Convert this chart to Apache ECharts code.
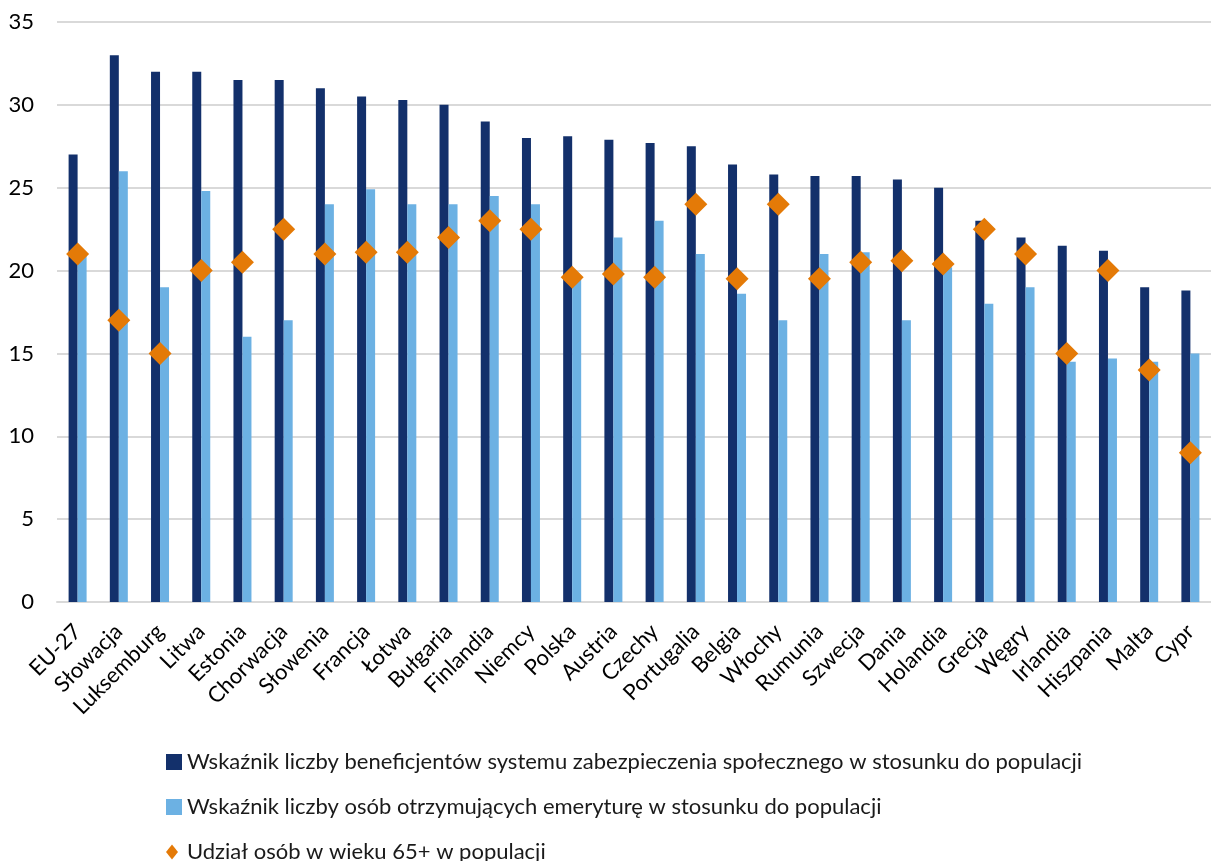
<!DOCTYPE html>
<html lang="pl">
<head>
<meta charset="utf-8">
<title>Wskaźniki beneficjentów i emerytów</title>
<script src="https://cdn.jsdelivr.net/npm/echarts@6/dist/echarts.min.js"></script>
<style>
  html, body { margin: 0; padding: 0; background: #fff; }
  #chart { width: 1211px; height: 861px; }
</style>
</head>
<body>
<div id="chart"></div>
<script>
// Kraje (oraz średnia UE-27)
const countries = [
  'EU-27', 'Słowacja', 'Luksemburg', 'Litwa', 'Estonia', 'Chorwacja', 'Słowenia',
  'Francja', 'Łotwa', 'Bułgaria', 'Finlandia', 'Niemcy', 'Polska', 'Austria',
  'Czechy', 'Portugalia', 'Belgia', 'Włochy', 'Rumunia', 'Szwecja', 'Dania',
  'Holandia', 'Grecja', 'Węgry', 'Irlandia', 'Hiszpania', 'Malta', 'Cypr'
];

// Wskaźnik liczby beneficjentów systemu zabezpieczenia społecznego (%)
const beneficiaries = [
  27, 33, 32, 32, 31.5, 31.5, 31,
  30.5, 30.3, 30, 29, 28, 28.1, 27.9,
  27.7, 27.5, 26.4, 25.8, 25.7, 25.7, 25.5,
  25, 23, 22, 21.5, 21.2, 19, 18.8
];

// Wskaźnik liczby osób otrzymujących emeryturę (%)
const pensioners = [
  20.9, 26, 19, 24.8, 16, 17, 24,
  24.9, 24, 24, 24.5, 24, 19.5, 22,
  23, 21, 18.6, 17, 21, 21.1, 17,
  20.2, 18, 19, 14.5, 14.7, 14.5, 15
];

// Udział osób w wieku 65+ w populacji (%)
const share65 = [
  21, 17, 15, 20, 20.5, 22.5, 21,
  21.1, 21.1, 22, 23, 22.5, 19.6, 19.8,
  19.6, 24, 19.5, 24, 19.5, 20.5, 20.6,
  20.4, 22.5, 21, 15, 20, 14, 9
];

const yTicks = { min: 0, max: 35, step: 5 };

const seriesNames = [
  'Wskaźnik liczby beneficjentów systemu zabezpieczenia społecznego w stosunku do populacji',
  'Wskaźnik liczby osób otrzymujących emeryturę w stosunku do populacji',
  'Udział osób w wieku 65+ w populacji'
];

const COLORS = ['#13306B', '#6CB1E3', '#E47A07'];
const FONT = 'Lato, "Noto Sans", sans-serif';
const FONT_SIZE = 22;

// One legend block per row so every entry sits on its own line
function legendRow(name, top, icon, w, h, textPad) {
  return {
    orient: 'horizontal',
    left: 166,
    top: top,
    padding: 0,
    itemWidth: w,
    itemHeight: h,
    selectedMode: false,
    textStyle: { fontFamily: FONT, fontSize: FONT_SIZE, color: '#1a1a1a', padding: textPad },
    data: [{ name: name, icon: icon }]
  };
}

const chart = echarts.init(document.getElementById('chart'), null, { renderer: 'canvas' });

chart.setOption({
  animation: false,
  backgroundColor: '#ffffff',
  textStyle: { fontFamily: FONT },
  grid: { left: 57, right: -12, top: 22, bottom: 259, containLabel: false },
  legend: [
    legendRow(seriesNames[0], 751, 'rect', 16, 16, [0, 0, 0, 0]),
    legendRow(seriesNames[1], 796, 'rect', 16, 16, [0, 0, 0, 0]),
    legendRow(seriesNames[2], 841, 'diamond', 12, 15, [0, 0, 0, 4])
  ],
  xAxis: {
    type: 'category',
    data: countries,
    axisLine: { lineStyle: { color: '#D9D9D9', width: 2 } },
    axisTick: { show: false },
    axisLabel: {
      rotate: 45,
      interval: 0,
      margin: 26,
      fontFamily: FONT,
      fontSize: FONT_SIZE,
      color: '#000000'
    }
  },
  yAxis: {
    type: 'value',
    min: yTicks.min,
    max: yTicks.max,
    interval: yTicks.step,
    axisLine: { show: false },
    axisTick: { show: false },
    splitLine: { lineStyle: { color: '#D9D9D9', width: 2 } },
    axisLabel: {
      margin: 23,
      fontFamily: FONT,
      fontSize: FONT_SIZE,
      color: '#000000'
    }
  },
  series: [
    {
      name: seriesNames[0],
      type: 'bar',
      data: beneficiaries,
      barWidth: 9,
      barGap: '0%',
      itemStyle: { color: COLORS[0] },
      z: 2
    },
    {
      name: seriesNames[1],
      type: 'bar',
      data: pensioners,
      barWidth: 9,
      barGap: '0%',
      itemStyle: { color: COLORS[1] },
      z: 2
    },
    {
      name: seriesNames[2],
      type: 'scatter',
      data: share65,
      symbol: 'diamond',
      symbolSize: [23, 23],
      itemStyle: { color: COLORS[2], opacity: 1 },
      z: 5
    }
  ]
});
</script>
</body>
</html>
